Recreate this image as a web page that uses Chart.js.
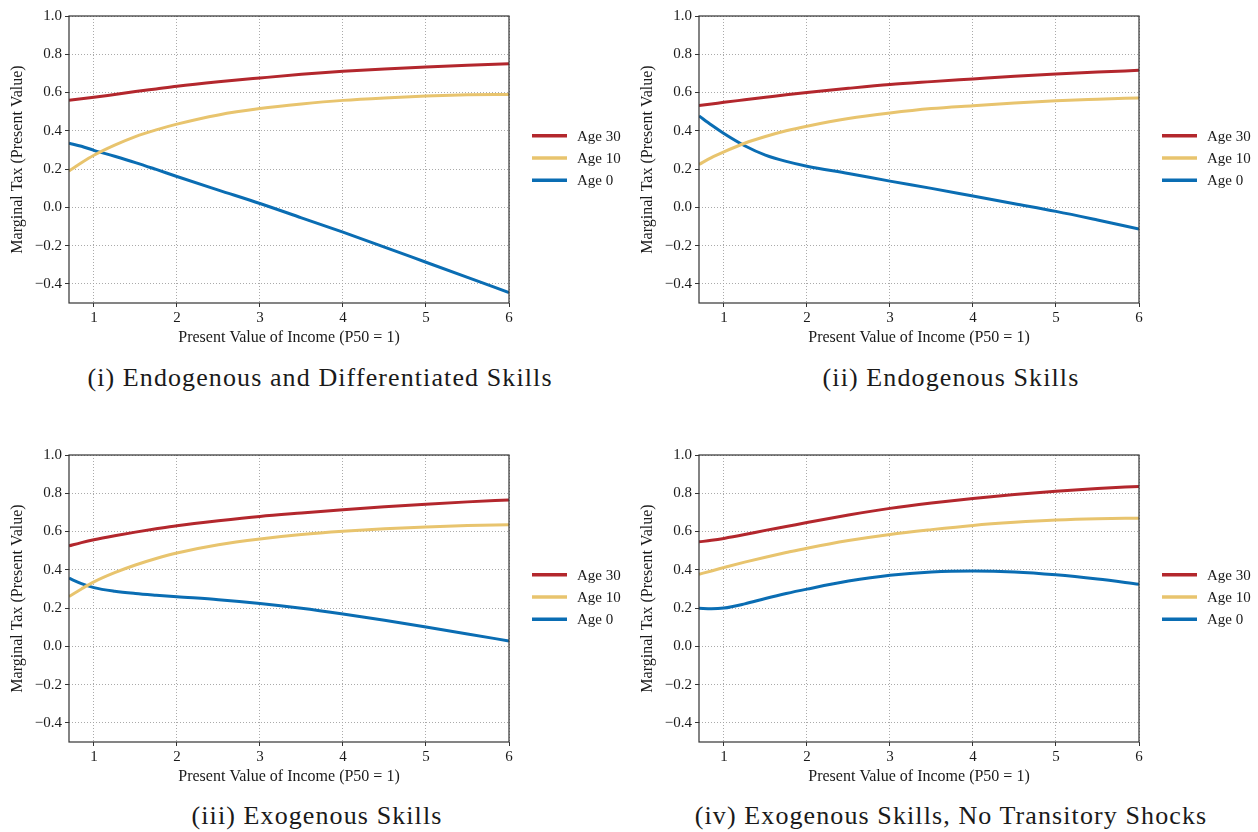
<!DOCTYPE html>
<html>
<head>
<meta charset="utf-8">
<script src="https://cdn.jsdelivr.net/npm/chart.js@4.4.1/dist/chart.umd.min.js"></script>
<style>
  html, body { margin: 0; padding: 0; background: #ffffff; }
  body { width: 1258px; height: 832px; position: relative; overflow: hidden; font-family: 'Liberation Serif', 'Times New Roman', serif; }
  .panel { position: absolute; width: 630px; height: 350px; }
  .panel canvas { display: block; }
  .caption { position: absolute; width: 630px; height: 30px; line-height: 30px; text-align: center; font-size: 26px; letter-spacing: 1.1px; color: #1a1a1a; white-space: nowrap; }
</style>
</head>
<body>
<div class="panel" style="left:0px;top:0px"><canvas id="c1" width="630" height="350"></canvas></div>
<div class="panel" style="left:630px;top:0px"><canvas id="c2" width="630" height="350"></canvas></div>
<div class="panel" style="left:0px;top:439px"><canvas id="c3" width="630" height="350"></canvas></div>
<div class="panel" style="left:630px;top:439px"><canvas id="c4" width="630" height="350"></canvas></div>
<div class="caption" id="cap1" style="left:5px;top:363px"></div>
<div class="caption" id="cap2" style="left:636px;top:363px"></div>
<div class="caption" id="cap3" style="left:2px;top:801px"></div>
<div class="caption" id="cap4" style="left:636px;top:801px"></div>
<script>
// Present value of income (P50 = 1) at which each schedule is evaluated
const incomeGrid = [0.7, 0.85, 1, 1.25, 1.5, 1.75, 2, 2.5, 3, 3.5, 4, 4.5, 5, 5.5, 6];

const seriesLabels = ['Age 30', 'Age 10', 'Age 0'];
const seriesColors = ['#b3272d', '#e8c46e', '#0a6db3'];

const xTicks = [1, 2, 3, 4, 5, 6];
const yTicks = [-0.4, -0.2, 0.0, 0.2, 0.4, 0.6, 0.8, 1.0];

const xTitle = 'Present Value of Income (P50 = 1)';
const yTitle = 'Marginal Tax (Present Value)';

const captions = [
  '(i) Endogenous and Differentiated Skills',
  '(ii) Endogenous Skills',
  '(iii) Exogenous Skills',
  '(iv) Exogenous Skills, No Transitory Shocks'
];

// (i) Endogenous and differentiated skills
const endoDiffAge30 = [0.560, 0.567, 0.575, 0.590, 0.605, 0.619, 0.633, 0.656, 0.676, 0.695, 0.711, 0.723, 0.733, 0.742, 0.750];
const endoDiffAge10 = [0.190, 0.233, 0.272, 0.325, 0.370, 0.405, 0.435, 0.483, 0.516, 0.540, 0.559, 0.572, 0.582, 0.588, 0.590];
const endoDiffAge0  = [0.335, 0.319, 0.298, 0.267, 0.234, 0.198, 0.161, 0.090, 0.020, -0.055, -0.130, -0.208, -0.287, -0.366, -0.445];

// (ii) Endogenous skills
const endoAge30 = [0.532, 0.540, 0.549, 0.562, 0.575, 0.588, 0.600, 0.622, 0.642, 0.657, 0.671, 0.685, 0.697, 0.707, 0.716];
const endoAge10 = [0.224, 0.260, 0.290, 0.335, 0.370, 0.400, 0.424, 0.464, 0.493, 0.516, 0.531, 0.545, 0.557, 0.565, 0.572];
const endoAge0  = [0.478, 0.430, 0.386, 0.322, 0.273, 0.240, 0.215, 0.177, 0.137, 0.099, 0.059, 0.019, -0.021, -0.066, -0.113];

// (iii) Exogenous skills
const exoAge30 = [0.525, 0.542, 0.557, 0.578, 0.597, 0.614, 0.630, 0.656, 0.679, 0.697, 0.714, 0.729, 0.743, 0.755, 0.765];
const exoAge10 = [0.260, 0.300, 0.337, 0.385, 0.425, 0.459, 0.488, 0.531, 0.561, 0.584, 0.601, 0.614, 0.624, 0.631, 0.636];
const exoAge0  = [0.356, 0.328, 0.307, 0.288, 0.276, 0.267, 0.259, 0.244, 0.224, 0.199, 0.169, 0.136, 0.101, 0.065, 0.028];

// (iv) Exogenous skills, no transitory shocks
const exoNoShockAge30 = [0.546, 0.554, 0.564, 0.584, 0.606, 0.626, 0.647, 0.686, 0.721, 0.749, 0.773, 0.793, 0.811, 0.825, 0.836];
const exoNoShockAge10 = [0.377, 0.394, 0.412, 0.440, 0.466, 0.490, 0.513, 0.553, 0.585, 0.610, 0.632, 0.648, 0.660, 0.667, 0.670];
const exoNoShockAge0  = [0.199, 0.196, 0.200, 0.222, 0.250, 0.276, 0.299, 0.341, 0.372, 0.389, 0.394, 0.389, 0.374, 0.352, 0.325];

const panels = [
  { canvas: 'c1', caption: 'cap1', series: [endoDiffAge30, endoDiffAge10, endoDiffAge0] },
  { canvas: 'c2', caption: 'cap2', series: [endoAge30, endoAge10, endoAge0] },
  { canvas: 'c3', caption: 'cap3', series: [exoAge30, exoAge10, exoAge0] },
  { canvas: 'c4', caption: 'cap4', series: [exoNoShockAge30, exoNoShockAge10, exoNoShockAge0] }
];

const SERIF = "'Liberation Serif', 'Times New Roman', serif";
Chart.defaults.font.family = SERIF;
Chart.defaults.color = '#1a1a1a';

const fmtTick = v => v.toFixed(1).replace('-', '\u2212');

// Closed box round the plotting area
const frameBox = {
  id: 'frameBox',
  afterDatasetsDraw(chart) {
    const { ctx, chartArea: a } = chart;
    ctx.save();
    ctx.strokeStyle = '#333333';
    ctx.lineWidth = 1.2;
    ctx.strokeRect(a.left, a.top, a.right - a.left, a.bottom - a.top);
    ctx.restore();
  }
};

// Line-sample legend placed to the right of the plotting area
const sideLegend = {
  id: 'sideLegend',
  afterDraw(chart) {
    const { ctx, chartArea: a } = chart;
    const x0 = a.right + 23;
    const yMid = (a.top + a.bottom) / 2 - 1.5;
    chart.data.datasets.forEach((ds, i) => {
      const y = yMid + (i - 1) * 22.3;
      ctx.save();
      ctx.strokeStyle = ds.borderColor;
      ctx.lineWidth = 3.5;
      ctx.beginPath();
      ctx.moveTo(x0, y);
      ctx.lineTo(x0 + 35, y);
      ctx.stroke();
      ctx.fillStyle = '#1a1a1a';
      ctx.font = '15px ' + SERIF;
      ctx.textBaseline = 'middle';
      ctx.textAlign = 'left';
      ctx.fillText(ds.label, x0 + 45, y + 1);
      ctx.restore();
    });
  }
};

panels.forEach((p, idx) => {
  document.getElementById(p.caption).textContent = captions[idx];
  const datasets = p.series.map((vals, i) => ({
    label: seriesLabels[i],
    data: incomeGrid.map((x, k) => ({ x: x, y: vals[k] })),
    borderColor: seriesColors[i],
    backgroundColor: seriesColors[i],
    borderWidth: 3,
    pointRadius: 0,
    pointHoverRadius: 0,
    fill: false,
    cubicInterpolationMode: 'monotone'
  }));

  new Chart(document.getElementById(p.canvas), {
    type: 'line',
    data: { datasets },
    plugins: [frameBox, sideLegend],
    options: {
      responsive: false,
      animation: false,
      devicePixelRatio: 1,
      layout: { padding: { top: 16, right: 121, bottom: 0, left: 0 } },
      plugins: { legend: { display: false }, tooltip: { enabled: false } },
      scales: {
        x: {
          type: 'linear',
          min: 0.7,
          max: 6,
          afterBuildTicks: s => { s.ticks = xTicks.map(v => ({ value: v })); },
          afterFit: s => { s.height = 47; },
          ticks: { font: { size: 15 }, color: '#1a1a1a', padding: 2, maxRotation: 0, callback: v => String(v) },
          grid: { color: '#a0a0a0', lineWidth: 0.9, tickLength: 4, tickColor: '#333333', tickWidth: 1 },
          border: { display: false, dash: [1, 2] },
          title: { display: true, text: xTitle, font: { size: 16 }, color: '#1a1a1a', padding: { top: 0, bottom: 2.5 } }
        },
        y: {
          type: 'linear',
          min: -0.5,
          max: 1.0,
          afterBuildTicks: s => { s.ticks = yTicks.map(v => ({ value: v })); },
          afterFit: s => { s.width = 69; },
          ticks: { font: { size: 15 }, color: '#1a1a1a', padding: 3, callback: v => fmtTick(v) },
          grid: { color: '#a0a0a0', lineWidth: 0.9, tickLength: 4, tickColor: '#333333', tickWidth: 1 },
          border: { display: false, dash: [1, 2] },
          title: { display: true, text: yTitle, font: { size: 16 }, color: '#1a1a1a', padding: { top: 8.5, bottom: 0 } }
        }
      }
    }
  });
});
</script>
</body>
</html>
